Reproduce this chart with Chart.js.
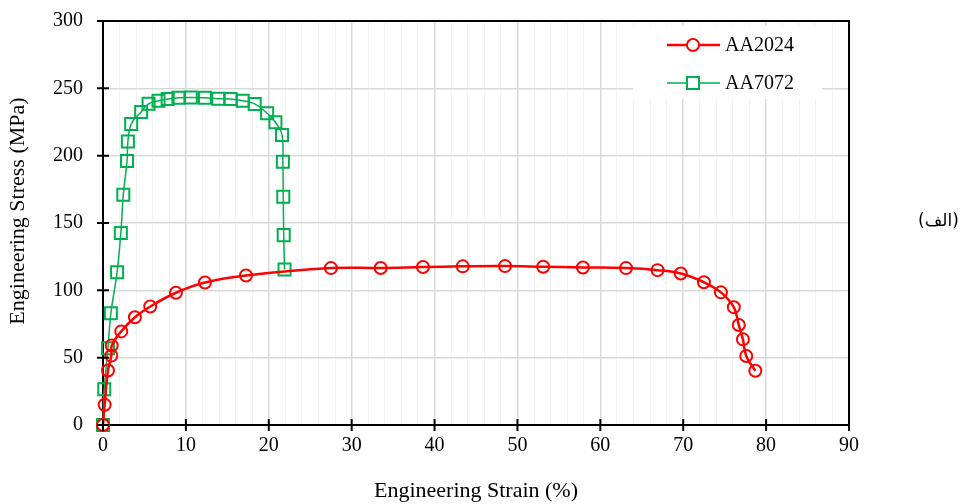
<!DOCTYPE html>
<html>
<head>
<meta charset="utf-8">
<script src="https://cdn.jsdelivr.net/npm/chart.js@4.4.1/dist/chart.umd.min.js"></script>
<style>
  html, body { margin: 0; padding: 0; background: #fff; }
  #wrap { position: relative; width: 966px; height: 504px; }
  #tag { position: absolute; left: 918px; top: 210px; font: 17px "DejaVu Sans", sans-serif; direction: rtl; color: #000; }
</style>
</head>
<body>
<div id="wrap">
  <canvas id="chart" width="966" height="504"></canvas>
  <div id="tag">(الف)</div>
</div>
<script>
// Engineering stress-strain readings (strain %, stress MPa)
const aa2024Strain = [0, 0.2, 0.6, 1.0, 1.05, 2.2, 3.85, 5.7, 8.8, 12.3, 17.25, 27.5, 33.5, 38.6, 43.4, 48.5, 53.1, 57.9, 63.1, 66.9, 69.7, 72.5, 74.55, 76.1, 76.7, 77.2, 77.6, 78.7];
const aa2024Stress = [0, 15, 40.5, 51.5, 59, 69.5, 80, 88, 98.2, 105.8, 111, 116.5, 116.6, 117.3, 117.8, 118, 117.5, 117, 116.5, 115, 112.5, 106, 98.5, 87.5, 74.3, 63.6, 51.2, 40.3];

const aa7072Strain = [0, 0.15, 0.6, 0.95, 1.7, 2.15, 2.45, 2.9, 3.0, 3.4, 4.6, 5.5, 6.7, 7.8, 9.1, 10.6, 12.3, 13.9, 15.4, 16.85, 18.3, 19.8, 20.8, 21.6, 21.7, 21.75, 21.8, 21.9];
const aa7072Stress = [0, 26.5, 57, 83, 113.5, 142.5, 171, 196, 210.5, 223.5, 232.5, 238.5, 240.8, 242, 243, 243.2, 243, 242.3, 242, 240.8, 238.4, 231.5, 224.8, 215.3, 195.5, 169.5, 141, 115.5];

const seriesNames = ['AA2024', 'AA7072'];
const xTitle = 'Engineering Strain (%)';
const yTitle = 'Engineering Stress (MPa)';

const RED = '#ff0000';
const GREEN = '#00b050';
const FONT = '"Liberation Serif", "Times New Roman", serif';

function toPoints(xs, ys) {
  return xs.map((v, i) => ({ x: v, y: ys[i] }));
}

// Box frame, crossing tick marks, y title and the in-plot legend
const decorations = {
  id: 'decorations',
  afterDraw(chart) {
    const { ctx, chartArea: a, scales: { x, y } } = chart;
    ctx.save();

    // legend
    ctx.fillStyle = '#fff';
    ctx.fillRect(633, 26, 189, 73);
    const rows = [45, 83];
    chart.data.datasets.forEach((ds, i) => {
      const ry = rows[i];
      ctx.strokeStyle = ds.borderColor;
      ctx.lineWidth = ds.borderWidth;
      ctx.beginPath();
      ctx.moveTo(667, ry);
      ctx.lineTo(720, ry);
      ctx.stroke();
      ctx.lineWidth = ds.pointBorderWidth;
      ctx.fillStyle = '#fff';
      Chart.helpers.drawPoint(ctx, {
        pointStyle: ds.pointStyle,
        radius: ds.pointRadius,
        borderWidth: ds.pointBorderWidth,
        rotation: 0
      }, 693, ry);
      ctx.fillStyle = '#000';
      ctx.font = '20px ' + FONT;
      ctx.textBaseline = 'middle';
      ctx.textAlign = 'left';
      ctx.fillText(ds.label, 725, ry + 1);
    });

    // y axis title, sits a little above the plot centre
    ctx.save();
    ctx.translate(18, 211);
    ctx.rotate(-Math.PI / 2);
    ctx.fillStyle = '#000';
    ctx.font = '22px ' + FONT;
    ctx.textAlign = 'center';
    ctx.textBaseline = 'middle';
    ctx.fillText(yTitle, 0, 0);
    ctx.restore();

    ctx.strokeStyle = '#000';
    ctx.lineWidth = 2;
    ctx.beginPath();
    ctx.moveTo(a.left, a.top);
    ctx.lineTo(a.right, a.top);
    ctx.lineTo(a.right, a.bottom);
    x.ticks.forEach(t => {
      if (t.value % 10 !== 0) return;
      const px = x.getPixelForValue(t.value);
      ctx.moveTo(px, a.bottom - 6);
      ctx.lineTo(px, a.bottom + 6);
    });
    y.ticks.forEach(t => {
      const py = y.getPixelForValue(t.value);
      ctx.moveTo(a.left - 6, py);
      ctx.lineTo(a.left + 6, py);
    });
    ctx.stroke();
    ctx.restore();
  }
};

new Chart(document.getElementById('chart').getContext('2d'), {
  type: 'line',
  data: {
    datasets: [
      {
        label: seriesNames[0],
        data: toPoints(aa2024Strain, aa2024Stress),
        borderColor: RED,
        borderWidth: 2.5,
        tension: 0.4,
        clip: false,
        pointStyle: 'circle',
        pointRadius: 6,
        pointBorderWidth: 2,
        pointBorderColor: RED,
        pointBackgroundColor: 'rgba(0,0,0,0)',
        fill: false
      },
      {
        label: seriesNames[1],
        data: toPoints(aa7072Strain, aa7072Stress),
        borderColor: GREEN,
        borderWidth: 1.5,
        tension: 0.4,
        clip: false,
        pointStyle: 'rect',
        pointRadius: 8.5,
        pointBorderWidth: 2,
        pointBorderColor: GREEN,
        pointBackgroundColor: 'rgba(0,0,0,0)',
        fill: false
      }
    ]
  },
  options: {
    responsive: false,
    animation: false,
    layout: { padding: { left: 0, top: 21, right: 117, bottom: 0 } },
    plugins: {
      legend: { display: false },
      tooltip: { enabled: false }
    },
    scales: {
      x: {
        type: 'linear',
        min: 0,
        max: 90,
        afterFit: s => { s.height = 79; },
        border: { color: '#000', width: 2 },
        grid: {
          color: c => (c.tick && c.tick.value % 10 === 0) ? '#d9d9d9' : '#f2f2f2',
          lineWidth: c => (c.tick && c.tick.value % 10 === 0) ? 1.5 : 1,
          tickLength: 6,
          tickColor: 'rgba(0,0,0,0)'
        },
        ticks: {
          stepSize: 2,
          autoSkip: false,
          maxRotation: 0,
          padding: 3,
          color: '#000',
          font: { family: FONT, size: 20 },
          callback: v => (v % 10 === 0 ? v : '')
        },
        title: {
          display: true,
          text: xTitle,
          color: '#000',
          font: { family: FONT, size: 22 },
          padding: { top: 0, bottom: 0 }
        }
      },
      y: {
        min: 0,
        max: 300,
        afterFit: s => { s.width = 103; },
        border: { color: '#000', width: 2 },
        grid: {
          color: '#d9d9d9',
          lineWidth: 1.5,
          tickLength: 18,
          tickColor: 'rgba(0,0,0,0)'
        },
        ticks: {
          stepSize: 50,
          padding: 2,
          color: '#000',
          font: { family: FONT, size: 20 }
        },
        title: { display: false }
      }
    }
  },
  plugins: [decorations]
});
</script>
</body>
</html>
